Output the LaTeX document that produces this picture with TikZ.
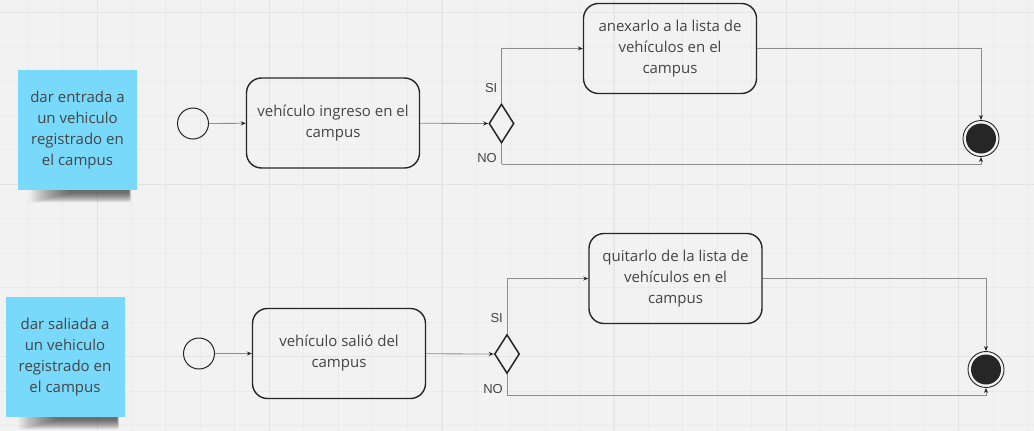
\documentclass[tikz,border=0pt]{standalone}
\usepackage{fontspec}
\setmainfont{Open Sans}
\newfontfamily\labelfont{Liberation Sans}
\usetikzlibrary{shapes.geometric,arrows.meta}
\definecolor{bgc}{HTML}{F2F2F2}
\definecolor{majg}{HTML}{E4E4E4}
\definecolor{ming}{HTML}{EBEBEB}
\definecolor{sticky}{HTML}{79D9FA}
\definecolor{txt}{HTML}{454545}
\definecolor{edge}{HTML}{8C8C8C}
\definecolor{dark}{HTML}{262626}
\begin{document}
\begin{tikzpicture}[x=1pt,y=-1pt,
  actbox/.style={draw=dark,line width=1.4pt,rounded corners=15pt,minimum width=173pt,minimum height=90pt,
    align=center,text=txt,font=\fontsize{15}{21}\selectfont,inner sep=0pt},
  note/.style={fill=sticky,draw=none,minimum width=119pt,minimum height=120pt,align=center,text=txt,
    font=\fontsize{15}{21}\selectfont,inner sep=0pt},
  startc/.style={circle,draw=dark,line width=1pt,minimum size=31pt,inner sep=0pt},
  decis/.style={diamond,draw=dark,line width=1.5pt,minimum width=25pt,minimum height=39pt,inner sep=0pt},
  endc/.style={circle,draw=dark,line width=0.9pt,minimum size=36pt,inner sep=0pt,
    path picture={\fill[dark] (path picture bounding box.center) circle (15pt);}},
  conn/.style={draw=edge,line width=0.8pt,-{Stealth[length=5pt,width=4pt,color=dark]}},
  plain/.style={draw=edge,line width=0.8pt},
  lab/.style={text=txt,font=\labelfont\fontsize{13}{13}\selectfont,inner sep=0pt},
  shade/.style={fill=black,opacity=0.035},
  minorgrid/.style={draw=ming,line width=0.7pt},
  majorgrid/.style={draw=majg,line width=1pt}]
\fill[bgc] (0,0) rectangle (1034,431);
\useasboundingbox (0,0) rectangle (1034,431);
% grid
\foreach \i in {0,...,30} {
  \draw[minorgrid] ({28+34.46*\i},0) -- ({28+34.46*\i},431);
}
\foreach \i in {0,...,13} {
  \draw[minorgrid] (0,{12+34.46*\i}) -- (1034,{12+34.46*\i});
}
\foreach \x in {97,269.5,442,614,786,958} {
  \draw[majorgrid] (\x,0) -- (\x,431);
}
\foreach \y in {12,184,356} {
  \draw[majorgrid] (0,\y) -- (1034,\y);
}
% sticky note shadows
\foreach \i in {1,...,20} {
  \fill[shade,rounded corners=2pt] ({28+2*\i},188) rectangle ({131-0.1*\i},{203-0.5*\i});
  \fill[shade,rounded corners=2pt] ({16+2*\i},415) rectangle ({119-0.1*\i},{430-0.5*\i});
}
% sticky notes
\node[note] (n1) at (77.5,130) {dar entrada a\\un vehiculo\\registrado en\\el campus};
\node[note] (n2) at (65,357) {dar saliada a\\un vehiculo\\registrado en\\el campus};
% top flow
\node[startc] (s1) at (193,123.5) {};
\node[actbox] (b1) at (333,123) {vehículo ingreso en el\\campus};
\node[decis] (d1) at (501.5,123.5) {};
\node[actbox] (b2) at (670,48.5) {anexarlo a la lista de\\vehículos en el\\campus};
\node[endc] (e1) at (981,138.5) {};
\coordinate (k1) at (501.5,164);
\node[lab,anchor=east] (si1) at (497.5,88) {SI};
\node[lab,anchor=east] (no1) at (497,158) {NO};
\draw[conn] (s1) -- (b1);
\draw[conn] (b1) -- (d1.west);
\draw[conn] (d1.north) |- (b2.west);
\draw[conn] (b2.east) -| (e1.north);
\draw[plain] (d1.south) -- (k1);
\draw[conn] (k1) -| (e1.south);
% bottom flow
\node[startc] (s2) at (199,353.5) {};
\node[actbox] (b3) at (339,353.5) {vehículo salió del\\campus};
\node[decis] (d2) at (507,354) {};
\node[actbox] (b4) at (675.5,278.5) {quitarlo de la lista de\\vehículos en el\\campus};
\node[endc] (e2) at (986,369.5) {};
\coordinate (k2) at (507,395);
\node[lab,anchor=east] (si2) at (503,318) {SI};
\node[lab,anchor=east] (no2) at (503,389) {NO};
\draw[conn] (s2) -- (b3);
\draw[conn] (b3) -- (d2.west);
\draw[conn] (d2.north) |- (b4.west);
\draw[conn] (b4.east) -| (e2.north);
\draw[plain] (d2.south) -- (k2);
\draw[conn] (k2) -| (e2.south);
\end{tikzpicture}
\end{document}
